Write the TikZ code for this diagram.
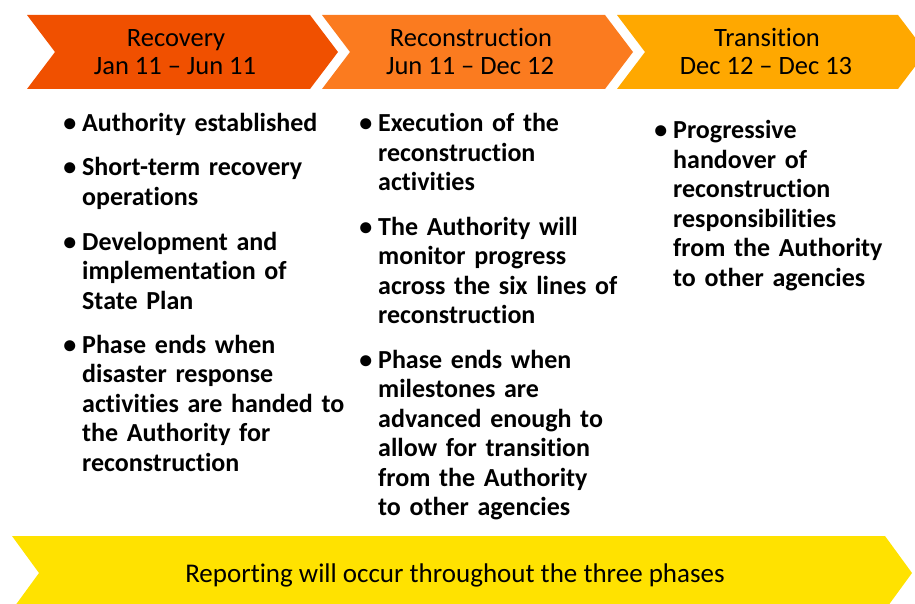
\documentclass[tikz,border=0pt]{standalone}
\usepackage{fontspec}
\setmainfont{Carlito}[Ligatures={TeX,NoCommon}]
\definecolor{recov}{HTML}{F05000}
\definecolor{recon}{HTML}{FB7B1F}
\definecolor{trans}{HTML}{FFA800}
\definecolor{report}{HTML}{FFE200}
\begin{document}
\begin{tikzpicture}[x=1pt,y=-1pt,
  title/.style={font=\fontsize{26.5}{29}\selectfont, inner sep=0pt, anchor=base},
  item/.style={font=\bfseries\fontsize{26}{29.5}\selectfont, inner sep=0pt,
    anchor=base west, text width=280pt, align=left},
]
\useasboundingbox (0,0) rectangle (915,604);
\clip (0,0) rectangle (915,604);
% chevrons
\fill[recov] (27,15) -- (310,15) -- (338,52) -- (310,89) -- (27,89) -- (55,52) -- cycle;
\fill[recon] (322,15) -- (605,15) -- (633,52) -- (605,89) -- (322,89) -- (350,52) -- cycle;
\fill[trans] (617,15) -- (898,15) -- (926,52) -- (898,89) -- (617,89) -- (645,52) -- cycle;
\fill[report] (12,536) -- (885,536) -- (912,573) -- (885,610) -- (12,610) -- (39,573) -- cycle;
% titles
\node[title] (t1a) at (176,47) {Recovery};
\node[title] (t1b) at (175,75) {Jan 11 – Jun 11};
\node[title] (t2a) at (471,47) {Reconstruction};
\node[title] (t2b) at (470,75) {Jun 11 – Dec 12};
\node[title] (t3a) at (767,47) {Transition};
\node[title] (t3b) at (766,75) {Dec 12 – Dec 13};
% column 1
\node[item] (a1) at (82,132) {\llap{•\kern6pt}Authority established};
\node[item] (a2) at (82,176) {\llap{•\kern6pt}Short-term recovery\\operations};
\node[item] (a3) at (82,250) {\llap{•\kern6pt}Development and\\implementation of\\State Plan};
\node[item] (a4) at (82,353) {\llap{•\kern6pt}Phase ends when\\disaster response\\activities are handed to\\the Authority for\\reconstruction};
% column 2
\node[item] (b1) at (378,132) {\llap{•\kern6pt}Execution of the\\reconstruction\\activities};
\node[item] (b2) at (378,235) {\llap{•\kern6pt}The Authority will\\monitor progress\\across the six lines of\\reconstruction};
\node[item] (b3) at (378,368) {\llap{•\kern6pt}Phase ends when\\milestones are\\advanced enough to\\allow for transition\\from the Authority\\to other agencies};
% column 3
\node[item] (c1) at (673,139) {\llap{•\kern6pt}Progressive\\handover of\\reconstruction\\responsibilities\\from the Authority\\to other agencies};
% bottom
\node[title, font=\fontsize{27}{30}\selectfont] (rep) at (455,582) {Reporting will occur throughout the three phases};
\end{tikzpicture}
\end{document}
